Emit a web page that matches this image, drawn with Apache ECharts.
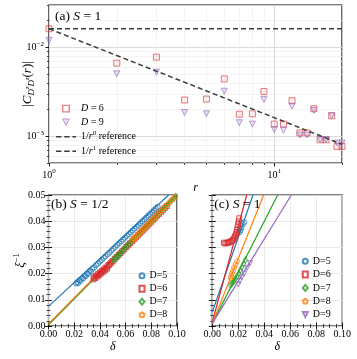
<!DOCTYPE html>
<html>
<head>
<meta charset="utf-8">
<script src="https://cdn.jsdelivr.net/npm/echarts@6/dist/echarts.min.js"></script>
<style>
html, body { margin: 0; padding: 0; background: #fff; }
#chart { width: 357px; height: 359px; }
</style>
</head>
<body>
<div id="chart"></div>
<script>
// ---- panel (a): |C(r)| against r, log-log ----
const rVals = [1, 2, 3, 4, 5, 6, 7, 8, 9, 10, 11, 12, 13, 14, 15, 16, 17, 18, 19, 20];
const corrD6 = [0.0162, 0.00665, 0.00778, 0.00256, 0.00262, 0.00442, 0.00177, 0.00179, 0.00318, 0.00137,
                0.00137, 0.00251, 0.00109, 0.00109, 0.00204, 0.000912, 0.000912, 0.00170, 0.00077, 0.00077];
const corrD9 = [0.0120, 0.00504, 0.00526, 0.00185, 0.00179, 0.00321, 0.00142, 0.00137, 0.00260, 0.00119,
                0.00117, 0.00218, 0.00103, 0.00103, 0.00195, 0.000915, 0.000915, 0.00170, 0.00084, 0.00084];
const refR = [1, 20];
const ref0 = [0.0162, 0.0162];
const ref1 = [0.0162, 0.00081];
const majorX = [1, 10];
const minorX = [2, 3, 4, 5, 6, 7, 8, 9, 20];
const majorY = [0.001, 0.01];
const minorY = [0.0005, 0.0006, 0.0007, 0.0008, 0.0009, 0.002, 0.003, 0.004, 0.005, 0.006, 0.007, 0.008, 0.009, 0.02, 0.03];

// ---- panel (b): S = 1/2, [delta, 1/xi] ----
const b5 = [[0.0215,0.0162],[0.0225,0.0168],[0.0230,0.0163],[0.0240,0.0175],[0.0250,0.0172],[0.0260,0.0183],
  [0.0270,0.0181],[0.0280,0.0192],[0.0290,0.0190],[0.0300,0.0200],[0.0310,0.0199],[0.0320,0.0210],[0.0330,0.0208],
  [0.0340,0.0218],[0.0355,0.0222],[0.0370,0.0232],[0.0385,0.0238],[0.0400,0.0246],[0.0415,0.0252],[0.0430,0.0260],
  [0.0445,0.0266],[0.0460,0.0274],[0.0475,0.0280],[0.0490,0.0288],[0.0505,0.0295],[0.0520,0.0302],[0.0535,0.0309],
  [0.0550,0.0316],[0.0565,0.0323],[0.0580,0.0330],[0.0595,0.0337],[0.0610,0.0344],[0.0625,0.0351],[0.0640,0.0358],
  [0.0655,0.0365],[0.0670,0.0372],[0.0685,0.0379],[0.0700,0.0386],[0.0715,0.0393],[0.0730,0.0400],[0.0745,0.0407],
  [0.0760,0.0414],[0.0775,0.0421],[0.0790,0.0428],[0.0805,0.0435],[0.0820,0.0442],[0.0835,0.0449],[0.0850,0.0455]];
const b6 = [[0.0350,0.0178],[0.0355,0.0186],[0.0365,0.0183],[0.0370,0.0192],[0.0380,0.0189],[0.0385,0.0198],
  [0.0395,0.0195],[0.0400,0.0204],[0.0410,0.0201],[0.0415,0.0210],[0.0425,0.0207],[0.0430,0.0216],[0.0440,0.0213],
  [0.0445,0.0222],[0.0455,0.0219],[0.0460,0.0228],[0.0470,0.0233],[0.0480,0.0238],[0.0490,0.0243],[0.0500,0.0248],
  [0.0515,0.0256],[0.0530,0.0263],[0.0545,0.0271],[0.0560,0.0278],[0.0575,0.0286],[0.0590,0.0293],[0.0605,0.0301],
  [0.0620,0.0308],[0.0635,0.0316],[0.0650,0.0323],[0.0665,0.0331],[0.0680,0.0338],[0.0695,0.0346],[0.0710,0.0353],
  [0.0725,0.0361],[0.0740,0.0368],[0.0755,0.0376],[0.0770,0.0383],[0.0785,0.0391],[0.0800,0.0398],[0.0815,0.0406],
  [0.0830,0.0413],[0.0845,0.0421],[0.0860,0.0428],[0.0875,0.0436],[0.0890,0.0443],[0.0905,0.0451],[0.0920,0.0458]];
const b7 = [[0.0505,0.0250],[0.0515,0.0259],[0.0525,0.0259],[0.0535,0.0268],[0.0545,0.0268],[0.0555,0.0277],
  [0.0565,0.0279],[0.0575,0.0287],[0.0585,0.0292],[0.0600,0.0300],[0.0615,0.0307],[0.0630,0.0315],[0.0645,0.0322],
  [0.0660,0.0330],[0.0675,0.0337],[0.0690,0.0345],[0.0705,0.0352],[0.0720,0.0360],[0.0735,0.0367],[0.0750,0.0375],
  [0.0765,0.0382],[0.0780,0.0390],[0.0795,0.0397],[0.0810,0.0405],[0.0825,0.0412],[0.0840,0.0420],[0.0855,0.0427],
  [0.0870,0.0435],[0.0885,0.0442],[0.0900,0.0450],[0.0915,0.0457],[0.0930,0.0465],[0.0945,0.0472],[0.0960,0.0480],
  [0.0975,0.0487],[0.0990,0.0495]];
const b8 = [[0.0650,0.0328],[0.0660,0.0336],[0.0670,0.0334],[0.0680,0.0342],[0.0690,0.0347],[0.0700,0.0352],
  [0.0715,0.0360],[0.0730,0.0367],[0.0745,0.0375],[0.0760,0.0382],[0.0775,0.0390],[0.0790,0.0397],[0.0805,0.0405],
  [0.0820,0.0412],[0.0835,0.0420],[0.0850,0.0427],[0.0865,0.0435],[0.0880,0.0442],[0.0895,0.0450],[0.0910,0.0457],
  [0.0925,0.0465],[0.0940,0.0472],[0.0955,0.0480],[0.0970,0.0487],[0.0985,0.0494]];
const fitB5 = [[0, 0.0075], [0.0935, 0.05]];
const fitB6 = [[0, 0.0006], [0.1, 0.0503]];
const fitB7 = [[0, 0.0004], [0.1, 0.0500]];
const fitB8 = [[0, 0.0008], [0.0990, 0.05]];

// ---- panel (c): S = 1 ----
const c5 = [[0.0212,0.0358],[0.0218,0.0366],[0.0225,0.0376],[0.0235,0.0388],[0.0245,0.0396]];
const c6 = [[0.0090,0.0318],[0.0100,0.0315],[0.0110,0.0317],[0.0120,0.0318],[0.0130,0.0320],[0.0140,0.0322],
  [0.0150,0.0325],[0.0160,0.0329],[0.0168,0.0335],[0.0175,0.0342],[0.0182,0.0350],[0.0187,0.0358],[0.0191,0.0367],
  [0.0195,0.0377],[0.0199,0.0388],[0.0203,0.0399],[0.0207,0.0411]];
const c7 = [[0.0140,0.0156],[0.0150,0.0161],[0.0158,0.0166],[0.0168,0.0172],[0.0178,0.0180],[0.0190,0.0189],
  [0.0203,0.0200],[0.0215,0.0212],[0.0228,0.0225],[0.0240,0.0238],[0.0255,0.0252]];
const c8 = [[0.0140,0.0184],[0.0146,0.0192],[0.0152,0.0202],[0.0160,0.0213],[0.0168,0.0224],[0.0178,0.0236],[0.0190,0.0248]];
const c9 = [[0.0200,0.0158],[0.0212,0.0172],[0.0228,0.0186],[0.0246,0.0200],[0.0268,0.0222],[0.0290,0.0240]];
const fitC5 = [[0, 0.0053], [0.0313, 0.05]];
const fitC6 = [[0, 0.0015], [0.0265, 0.05]];
const fitC7 = [[0, 0.0010], [0.0503, 0.05]];
const fitC8 = [[0, 0.0010], [0.0395, 0.05]];
const fitC9 = [[0, 0.0010], [0.0608, 0.05]];

const SERIF = "'Liberation Serif', 'DejaVu Serif', serif";
const BLUE = '#1f77b4', RED = '#d62728', GREEN = '#2ca02c', ORANGE = '#ff7f0e', PURPLE = '#9467bd';
const PENTAGON = 'path://M0,-1 L0.951,-0.309 L0.588,0.809 L-0.588,0.809 L-0.951,-0.309 Z';
const TRI_DOWN = 'path://M-1,-1 L1,-1 L0,1 Z';
const SQUARE = 'path://M0,0 L10,0 L10,10 L0,10 Z';
const DASH = 'path://M0,0h6v1.6h-6z M9,0h6v1.6h-6z M18,0h4v1.6h-4z';
const RED_A = 'rgba(214,39,40,0.75)', PURPLE_A = 'rgba(148,103,189,0.8)';

const richBase = {
  n: { fontFamily: SERIF, fontSize: 10, color: '#000' },
  i: { fontFamily: SERIF, fontSize: 10, fontStyle: 'italic', color: '#000' },
  b: { fontFamily: SERIF, fontSize: 10, color: '#000' },
  s: { fontFamily: SERIF, fontSize: 7, color: '#000', padding: [0, 0, 7, 0] }
};

function powLabel(v) {
  const e = Math.round(Math.log10(v));
  return '{b|10}{s|' + (e < 0 ? '\u2212' + (-e) : e) + '}';
}

// log axes: a major axis (labels, long ticks) and an overlaid minor one
function logAxis(pos, min, max, major, minor, isMinor, extra) {
  return Object.assign({
    type: 'log', gridIndex: 0, position: pos, min: min, max: max,
    axisLine: { show: false },
    axisTick: { show: true, inside: false, length: isMinor ? 2 : 3.5, customValues: isMinor ? minor : major,
                lineStyle: { color: '#000', width: isMinor ? 0.7 : 0.9 } },
    axisLabel: isMinor ? { show: false } : {
      show: true, customValues: major, margin: 5, formatter: powLabel, rich: richBase
    },
    splitLine: { show: true, lineStyle: { color: isMinor ? '#efefef' : '#dadada', width: isMinor ? 0.7 : 1 } },
    minorTick: { show: false }
  }, extra || {});
}

function linAxis(dim, grid, pos, max, interval, labels, minorSplit, extra) {
  return Object.assign({
    type: 'value', gridIndex: grid, position: pos, min: 0, max: max, interval: interval,
    axisLine: { show: false },
    axisTick: { show: true, inside: true, length: 3.5, lineStyle: { color: '#000', width: 0.9 } },
    minorTick: { show: true, splitNumber: minorSplit, length: 2, lineStyle: { color: '#000', width: 0.7 } },
    axisLabel: labels ? {
      show: true, margin: 3, fontFamily: SERIF, fontSize: 10, color: '#000',
      formatter: v => v.toFixed(2)
    } : { show: false },
    splitLine: { show: labels || (dim === 'y' && pos === 'left'), lineStyle: { color: '#e4e4e4', width: 0.8 } }
  }, extra || {});
}

function scatter(name, data, ax, symbol, size, color, fill, rotate) {
  return {
    name: name, type: 'scatter', xAxisIndex: ax, yAxisIndex: ax, data: data,
    symbol: symbol, symbolSize: size, symbolRotate: rotate || 0,
    itemStyle: { color: fill || 'rgba(0,0,0,0)', borderColor: color, borderWidth: 1 },
    z: 3, silent: true
  };
}

function fit(name, data, ax, color) {
  return {
    name: name, type: 'line', xAxisIndex: ax, yAxisIndex: ax, data: data,
    symbol: 'none', lineStyle: { color: color, width: 1.2 }, z: 2, silent: true
  };
}

const gridA = { left: 49, top: 5, width: 293, height: 158 };
const gridB = { left: 48.5, top: 195, width: 128.5, height: 131 };
const gridC = { left: 212.3, top: 195, width: 130, height: 131 };
const boxStyle = { show: true, borderColor: '#000', borderWidth: 1.2, backgroundColor: 'rgba(0,0,0,0)', outerBoundsMode: 'none' };

const labelsA = {
  a6: '{i|D}{n| = 6}',
  a9: '{i|D}{n| = 9}',
  ref0: '{n|1/}{i|r}{s|0}{n| reference}',
  ref1: '{n|1/}{i|r}{s|1}{n| reference}'
};

const option = {
  animation: false,
  backgroundColor: '#fff',
  grid: [
    Object.assign({}, gridA, boxStyle),
    Object.assign({}, gridB, boxStyle),
    Object.assign({}, gridC, boxStyle)
  ],
  xAxis: [
    logAxis('bottom', 1, 20, majorX, minorX, false, {
      name: 'r', nameLocation: 'middle', nameGap: 19, nameMoveOverlap: false,
      nameTextStyle: { fontFamily: SERIF, fontStyle: 'italic', fontSize: 12, color: '#000' }
    }),
    logAxis('bottom', 1, 20, majorX, minorX, true),
    linAxis('x', 1, 'bottom', 0.1, 0.02, true, 4, {
      name: '\u03b4', nameLocation: 'middle', nameGap: 15, nameMoveOverlap: false,
      nameTextStyle: { fontFamily: SERIF, fontStyle: 'italic', fontSize: 12, color: '#000' }
    }),
    linAxis('x', 1, 'top', 0.1, 0.02, false, 4),
    linAxis('x', 2, 'bottom', 0.1, 0.02, true, 4, {
      name: '\u03b4', nameLocation: 'middle', nameGap: 15, nameMoveOverlap: false,
      nameTextStyle: { fontFamily: SERIF, fontStyle: 'italic', fontSize: 12, color: '#000' }
    }),
    linAxis('x', 2, 'top', 0.1, 0.02, false, 4)
  ],
  yAxis: [
    logAxis('left', 0.0005, 0.03, majorY, minorY, false, {
      name: '{n||}{i|C}{sub|D}{ss|z}{sub|D}{ss|z}{n|(}{i|r}{n|)|}',
      nameLocation: 'middle', nameGap: 13, nameMoveOverlap: false,
      nameTextStyle: {
        rich: {
          n: { fontFamily: SERIF, fontSize: 13, color: '#000' },
          i: { fontFamily: SERIF, fontSize: 13, fontStyle: 'italic', color: '#000' },
          sub: { fontFamily: SERIF, fontSize: 9, fontStyle: 'italic', color: '#000', padding: [7, 0, 0, 0] },
          ss: { fontFamily: SERIF, fontSize: 6.5, fontStyle: 'italic', color: '#000', padding: [0, 0, 1, 0] }
        }
      }
    }),
    logAxis('left', 0.0005, 0.03, majorY, minorY, true),
    linAxis('y', 1, 'left', 0.05, 0.01, true, 5, {
      name: '{i|\u03be}{s|\u22121}', nameLocation: 'middle', nameGap: 19, nameMoveOverlap: false,
      nameTextStyle: {
        rich: {
          i: { fontFamily: SERIF, fontSize: 13, fontStyle: 'italic', color: '#000' },
          s: { fontFamily: SERIF, fontSize: 8.5, color: '#000', padding: [0, 0, 8, 0] }
        }
      }
    }),
    linAxis('y', 1, 'right', 0.05, 0.01, false, 5),
    linAxis('y', 2, 'left', 0.05, 0.01, false, 5),
    linAxis('y', 2, 'right', 0.05, 0.01, false, 5)
  ],
  legend: [
    {
      data: [
        { name: 'a6', icon: SQUARE, itemStyle: { color: 'rgba(0,0,0,0)', borderColor: RED_A, borderWidth: 1.3 } },
        { name: 'a9', icon: TRI_DOWN, itemStyle: { color: 'rgba(148,103,189,0.25)', borderColor: PURPLE_A, borderWidth: 1 } },
        { name: 'ref0', icon: DASH, itemStyle: { color: '#3c3c3c', borderWidth: 0 } },
        { name: 'ref1', icon: DASH, itemStyle: { color: '#3c3c3c', borderWidth: 0 } }
      ],
      orient: 'vertical', left: 56, top: 102.7, padding: 0,
      itemWidth: 20, itemHeight: 6.5, itemGap: 1.5, selectedMode: false, symbolKeepAspect: true,
      formatter: n => labelsA[n],
      textStyle: { fontFamily: SERIF, fontSize: 10, lineHeight: 12, color: '#000', rich: richBase }
    },
    {
      data: ['b5', 'b6', 'b7', 'b8'], orient: 'vertical', left: 138.5, top: 269.7, padding: 0,
      itemWidth: 5, itemHeight: 6, itemGap: 1, selectedMode: false,
      formatter: n => 'D=' + n.slice(1),
      textStyle: { fontFamily: SERIF, fontSize: 10, lineHeight: 12, color: '#000' }
    },
    {
      data: ['c5', 'c6', 'c7', 'c8', 'c9'], orient: 'vertical', left: 301.8, top: 255.3, padding: 0,
      itemWidth: 5, itemHeight: 6, itemGap: 1.3, selectedMode: false,
      formatter: n => 'D=' + n.slice(1),
      textStyle: { fontFamily: SERIF, fontSize: 10, lineHeight: 12, color: '#000' }
    }
  ],
  graphic: [
    { type: 'text', left: 55, top: 9, z: 10, style: { text: '{n|(a) }{i|S}{n| = 1}', rich: {
      n: { fontFamily: SERIF, fontSize: 13.5, fill: '#000' },
      i: { fontFamily: SERIF, fontSize: 13.5, fontStyle: 'italic', fill: '#000' } } } },
    { type: 'text', left: 51, top: 197.5, z: 10, style: { text: '{n|(b) }{i|S}{n| = 1/2}', rich: {
      n: { fontFamily: SERIF, fontSize: 13.5, fill: '#000' },
      i: { fontFamily: SERIF, fontSize: 13.5, fontStyle: 'italic', fill: '#000' } } } },
    { type: 'text', left: 214.3, top: 197.5, z: 10, style: { text: '{n|(c) }{i|S}{n| = 1}', rich: {
      n: { fontFamily: SERIF, fontSize: 13.5, fill: '#000' },
      i: { fontFamily: SERIF, fontSize: 13.5, fontStyle: 'italic', fill: '#000' } } } }
  ],
  series: [
    scatter('a6', rVals.map((r, i) => [r, corrD6[i]]), 0, 'rect', 6, RED_A, 'rgba(214,39,40,0.08)'),
    scatter('a9', rVals.map((r, i) => [r, corrD9[i]]), 0, TRI_DOWN, 6, PURPLE_A, 'rgba(148,103,189,0.25)'),
    {
      name: 'ref0', type: 'line', xAxisIndex: 0, yAxisIndex: 0, symbol: 'none', z: 4, silent: true,
      data: refR.map((r, i) => [r, ref0[i]]),
      itemStyle: { color: '#3c3c3c' },
      lineStyle: { color: '#3c3c3c', width: 1.5, type: [5, 3] }
    },
    {
      name: 'ref1', type: 'line', xAxisIndex: 0, yAxisIndex: 0, symbol: 'none', z: 4, silent: true,
      data: refR.map((r, i) => [r, ref1[i]]),
      itemStyle: { color: '#3c3c3c' },
      lineStyle: { color: '#3c3c3c', width: 1.5, type: [5, 3] }
    },

    fit('fb5', fitB5, 2, BLUE),
    fit('fb6', fitB6, 2, RED),
    fit('fb7', fitB7, 2, GREEN),
    fit('fb8', fitB8, 2, ORANGE),
    scatter('b5', b5, 2, 'circle', 5, BLUE),
    scatter('b6', b6, 2, 'rect', 5, RED),
    scatter('b7', b7, 2, 'diamond', [4, 6], GREEN),
    scatter('b8', b8, 2, PENTAGON, 5, ORANGE),

    fit('fc5', fitC5, 4, BLUE),
    fit('fc6', fitC6, 4, RED),
    fit('fc7', fitC7, 4, GREEN),
    fit('fc8', fitC8, 4, ORANGE),
    fit('fc9', fitC9, 4, PURPLE),
    scatter('c5', c5, 4, 'circle', 5, BLUE),
    scatter('c6', c6, 4, 'rect', 5, RED),
    scatter('c7', c7, 4, 'diamond', [4, 6], GREEN),
    scatter('c8', c8, 4, PENTAGON, 5, ORANGE),
    scatter('c9', c9, 4, TRI_DOWN, 5, PURPLE)
  ]
};

const chart = echarts.init(document.getElementById('chart'));
chart.setOption(option);
</script>
</body>
</html>
